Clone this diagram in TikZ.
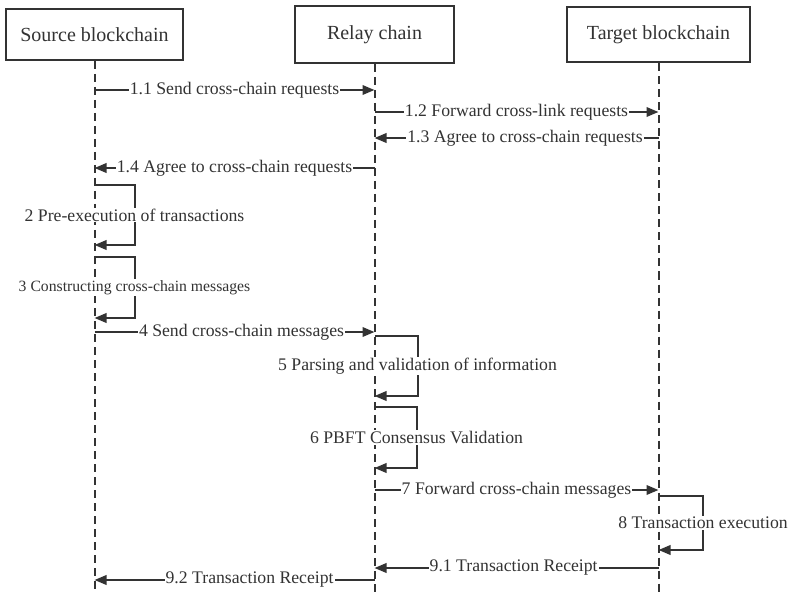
\documentclass[tikz,border=0pt]{standalone}
\usepackage{fontspec}
\setmainfont{Liberation Serif}
\usetikzlibrary{arrows.meta}
\definecolor{ink}{HTML}{333333}
\tikzset{
  chainbox/.style={draw=ink, line width=2pt, text=ink, inner sep=0pt, font=\fontsize{20}{24}\selectfont},
  lifeline/.style={draw=ink, line width=2pt, dash pattern=on 8pt off 5pt},
  msg/.style={draw=ink, line width=2pt, -{Triangle[length=12pt,width=9.5pt]}},
  lbl/.style={fill=white, text=ink, inner xsep=1pt, inner ysep=1pt, font=\fontsize{17.7}{20}\selectfont},
}
\begin{document}
\begin{tikzpicture}[x=1pt, y=-1pt]
\useasboundingbox[fill=white] (0,0) rectangle (791,593);
\node[chainbox, minimum width=177pt, minimum height=51pt] (src) at (94.5,34.5) {Source blockchain};
\node[chainbox, minimum width=159pt, minimum height=57pt] (rly) at (374.5,34.5) {Relay chain};
\node[chainbox, minimum width=183pt, minimum height=55pt] (tgt) at (658.5,35) {Target blockchain};
\coordinate (srcend) at (94.5,593);
\coordinate (rlyend) at (374.5,593);
\coordinate (tgtend) at (658.5,593);
\path (src) edge[lifeline] (srcend);
\path (rly) edge[lifeline] (rlyend);
\path (tgt) edge[lifeline] (tgtend);
% points on the lifelines
\coordinate (s11) at (94.5,90);  \coordinate (r11) at (374.5,90);
\coordinate (r12) at (374.5,112); \coordinate (t12) at (658.5,112);
\coordinate (t13) at (658.5,138); \coordinate (r13) at (374.5,138);
\coordinate (r14) at (374.5,168); \coordinate (s14) at (94.5,168);
\coordinate (s2a) at (94.5,185); \coordinate (s2b) at (94.5,245);
\coordinate (s3a) at (94.5,257); \coordinate (s3b) at (94.5,318);
\coordinate (s4) at (94.5,332);  \coordinate (r4) at (374.5,332);
\coordinate (r5a) at (374.5,336); \coordinate (r5b) at (374.5,396);
\coordinate (r6a) at (374.5,407); \coordinate (r6b) at (374.5,468);
\coordinate (r7) at (374.5,490); \coordinate (t7) at (658.5,490);
\coordinate (t8a) at (658.5,496); \coordinate (t8b) at (658.5,550);
\coordinate (t91) at (658.5,568); \coordinate (r91) at (374.5,568);
\coordinate (r92) at (374.5,580); \coordinate (s92) at (94.5,580);
\path (s11) edge[msg] node[lbl] {1.1 Send cross-chain requests} (r11);
\path (r12) edge[msg] node[lbl] {1.2 Forward cross-link requests} (t12);
\path (t13) edge[msg] node[lbl, pos=0.47] {1.3 Agree to cross-chain requests} (r13);
\path (r14) edge[msg] node[lbl] {1.4 Agree to cross-chain requests} (s14);
\draw[msg] (s2a) -- ++(40,0) |- node[lbl, pos=0.25] {2 Pre-execution of transactions} (s2b);
\draw[msg] (s3a) -- ++(40,0) |- node[lbl, pos=0.25, font=\fontsize{15.7}{18}\selectfont] {3 Constructing cross-chain messages} (s3b);
\path (s4) edge[msg] node[lbl, pos=0.525] {4 Send cross-chain messages} (r4);
\draw[msg] (r5a) -- ++(43,0) |- node[lbl, pos=0.25] {5 Parsing and validation of information} (r5b);
\draw[msg] (r6a) -- ++(42,0) |- node[lbl, pos=0.25] {6 PBFT Consensus Validation} (r6b);
\path (r7) edge[msg] node[lbl] {7 Forward cross-chain messages} (t7);
\draw[msg] (t8a) -- ++(44.5,0) |- node[lbl, pos=0.25] {8 Transaction execution} (t8b);
\path (t91) edge[msg] node[lbl, pos=0.51] {9.1 Transaction Receipt} (r91);
\path (r92) edge[msg] node[lbl, pos=0.446] {9.2 Transaction Receipt} (s92);
\end{tikzpicture}
\end{document}
